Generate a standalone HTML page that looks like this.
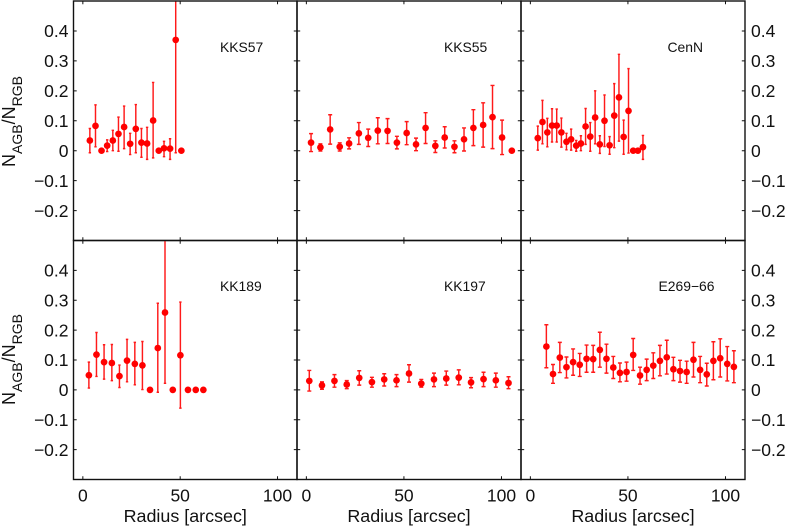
<!DOCTYPE html>
<html>
<head>
<meta charset="utf-8">
<title>AGB to RGB ratio by radius</title>
<style>
html,body{margin:0;padding:0;background:#fff;}
svg{display:block;font-family:"Liberation Sans",Arial,sans-serif;}
</style>
</head>
<body>
<svg id="figure" xmlns="http://www.w3.org/2000/svg" width="785" height="527" viewBox="0 0 785 527"></svg>
<script>
const xTickValues = [0, 50, 100];
const yTickValues = [0.4, 0.3, 0.2, 0.1, 0, -0.1, -0.2];
const yTickLabels = ["0.4", "0.3", "0.2", "0.1", "0", "\u22120.1", "\u22120.2"];
const xAxisTitle = "Radius [arcsec]";
const galaxyNames = ["KKS57", "KKS55", "CenN", "KK189", "KK197", "E269\u221266"];

const kks57Radius = [3.6,6.5,9.6,12.5,15.4,18.3,21.2,24.3,27.2,30.1,33,36.1,39,41.7,44.8,47.7,50.6];
const kks57Ratio = [.034,.083,0,.017,.034,.056,.079,.023,.073,.027,.024,.101,0,.008,.007,.37,0];
const kks57Upper = [.074,.153,null,.036,.068,.112,.149,.058,.154,.074,.078,.228,null,.031,.04,.74,null];
const kks57Lower = [-.007,.013,null,-.003,0,-.002,.007,-.013,-.007,-.022,-.029,-.024,null,-.02,-.029,-.007,null];

const kks55Radius = [2.4,7.2,12.2,17.1,21.9,26.9,31.7,36.6,41.6,46.4,51.4,56.2,61.1,66.1,70.9,75.9,80.8,85.6,90.6,95.4,100.3,105.3];
const kks55Ratio = [.027,.011,.071,.013,.024,.058,.043,.067,.066,.027,.059,.021,.076,.016,.044,.013,.038,.076,.086,.112,.044,0];
const kks55Upper = [.057,.023,.12,.026,.043,.094,.072,.11,.107,.048,.097,.042,.127,.033,.08,.033,.076,.137,.16,.218,.102,null];
const kks55Lower = [-.003,-.001,.022,-.001,.006,.021,.014,.023,.024,.006,.02,0,.024,-.006,.009,-.007,-.001,.017,.012,.007,-.013,null];

const cenNRadius = [3.8,6.2,8.7,11.1,13.5,15.9,18.5,20.9,23.5,25.9,28.3,30.7,33.2,35.6,38,40.6,43,45.4,47.8,50.3,52.7,55.1,57.7];
const cenNRatio = [.042,.096,.061,.084,.084,.061,.03,.038,.017,.024,.081,.047,.111,.021,.1,.018,.117,.178,.046,.133,0,0,.012];
const cenNUpper = [.082,.168,.108,.14,.139,.109,.058,.072,.034,.05,.141,.094,.2,.05,.186,.047,.224,.322,.102,.274,null,null,.051];
const cenNLower = [.002,.023,.013,.029,.029,.012,.003,.002,-.002,0,.021,-.002,.023,-.009,.014,-.012,.01,.032,-.012,-.008,null,null,-.029];

const kk189Radius = [3.1,7,10.9,14.9,18.8,22.7,26.7,30.6,34.5,38.5,42.2,46.2,50.1,54,58,61.9];
const kk189Ratio = [.049,.118,.093,.09,.046,.098,.087,.082,0,.14,.259,0,.116,0,0,0];
const kk189Upper = [.093,.192,.151,.152,.083,.169,.159,.162,null,.29,.56,null,.294,null,null,null];
const kk189Lower = [.006,.045,.036,.031,.008,.027,.017,.001,null,-.008,.022,null,-.061,null,null,null];

const kk197Radius = [1.5,8,14.4,20.7,27.1,33.6,39.9,46.2,52.6,58.9,65.4,71.7,78.1,84.4,90.8,97.1,103.6];
const kk197Ratio = [.03,.015,.03,.018,.04,.026,.035,.032,.055,.021,.035,.038,.041,.025,.036,.032,.023];
const kk197Upper = [.065,.027,.051,.031,.064,.042,.054,.051,.084,.035,.056,.063,.067,.041,.059,.056,.044];
const kk197Lower = [-.004,.002,.009,.004,.016,.009,.013,.011,.026,.009,.011,.016,.017,.007,.011,.009,.004];

const e269Radius = [8.2,11.6,15.1,18.5,21.9,25.3,28.8,32.2,35.6,39,42.5,45.9,49.3,52.7,56.2,59.6,63,66.4,69.9,73.3,76.7,80.1,83.6,87,90.4,93.8,97.3,100.9,104.3];
const e269Ratio = [.145,.053,.108,.076,.093,.084,.104,.103,.134,.104,.075,.057,.06,.117,.048,.067,.081,.097,.109,.069,.063,.06,.101,.067,.052,.097,.106,.087,.077];
const e269Upper = [.218,.085,.159,.11,.137,.122,.15,.149,.193,.153,.112,.09,.093,.172,.076,.103,.124,.149,.166,.109,.099,.096,.159,.112,.089,.161,.171,.145,.131];
const e269Lower = [.074,.022,.058,.04,.049,.045,.059,.059,.076,.056,.038,.027,.029,.065,.019,.031,.038,.047,.053,.031,.026,.022,.043,.024,.013,.034,.043,.03,.024];

const radiusSeries = [kks57Radius, kks55Radius, cenNRadius, kk189Radius, kk197Radius, e269Radius];
const ratioSeries = [kks57Ratio, kks55Ratio, cenNRatio, kk189Ratio, kk197Ratio, e269Ratio];
const upperSeries = [kks57Upper, kks55Upper, cenNUpper, kk189Upper, kk197Upper, e269Upper];
const lowerSeries = [kks57Lower, kks55Lower, cenNLower, kk189Lower, kk197Lower, e269Lower];

const NS = "http://www.w3.org/2000/svg";
const svg = document.getElementById("figure");
const colEdges = [73.5, 297, 521, 745];
const rowEdges = [1, 240.5, 479.5];
const xDomain = [-4.8, 110];
const yDomain = [-0.3, 0.5];

function make(tag, attrs, parent, text) {
  const el = document.createElementNS(NS, tag);
  for (const k in attrs) el.setAttribute(k, attrs[k]);
  if (text !== undefined) el.textContent = text;
  parent.appendChild(el);
  return el;
}
function xScale(col, v) {
  const l = colEdges[col], r = colEdges[col + 1];
  return l + (v - xDomain[0]) / (xDomain[1] - xDomain[0]) * (r - l);
}
function yScale(row, v) {
  const t = rowEdges[row], b = rowEdges[row + 1];
  return b - (v - yDomain[0]) / (yDomain[1] - yDomain[0]) * (b - t);
}
function slug(s) {
  return s.toLowerCase().replace(/[^a-z0-9]+/g, "-");
}

galaxyNames.forEach(function (name, i) {
  const col = i % 3, row = Math.floor(i / 3);
  const l = colEdges[col], r = colEdges[col + 1], t = rowEdges[row], b = rowEdges[row + 1];
  const key = slug(name);

  const panel = make("g", {}, svg);
  
  

  const clip = make("clipPath", { id: "clip-" + i }, panel);
  make("rect", { x: l, y: t, width: r - l, height: b - t }, clip);

  const marks = make("g", { "clip-path": "url(#clip-" + i + ")" }, panel);
  
  

  const xs = radiusSeries[i], ys = ratioSeries[i], hi = upperSeries[i], lo = lowerSeries[i];
  xs.forEach(function (xv, j) {
    const cx = xScale(col, xv);
    if (hi[j] !== null) {
      const yh = yScale(row, hi[j]), yl = yScale(row, lo[j]);
      const capW = col === 0 && row === 0 || col === 2 && row === 0 || i === 3 ? 1.2 : 2;
      const bar = make("path", {
        d: "M" + cx + " " + yh + "V" + yl +
           "M" + (cx - capW) + " " + yh + "H" + (cx + capW) +
           "M" + (cx - capW) + " " + yl + "H" + (cx + capW),
        fill: "none", stroke: "#ff1a1a", "stroke-width": 1.45
      }, marks);
      
      
    }
    const dot = make("circle", { cx: cx, cy: yScale(row, ys[j]), r: 3.35, fill: "#ff0000" }, marks);
    
    
  });

  const ticks = make("g", { stroke: "#111", "stroke-width": 1, fill: "none" }, panel);
  
  
  let tickPath = "";
  xTickValues.forEach(function (v) {
    const x = xScale(col, v);
    tickPath += "M" + x + " " + t + "v3.2M" + x + " " + b + "v-3.2";
  });
  yTickValues.forEach(function (v) {
    const y = yScale(row, v);
    tickPath += "M" + l + " " + y + "h3.2M" + r + " " + y + "h-3.2";
  });
  make("path", { d: tickPath }, ticks);

  const frame = make("rect", { x: l, y: t, width: r - l, height: b - t, fill: "none", stroke: "#111", "stroke-width": 1.4 }, panel);
  
  

  const labelBaseline = row === 0 ? 52 : 291;
  const labelX = [220, 444, 0][col] || (i === 2 ? 667.5 : 658.5);
  const label = make("text", { x: labelX, y: labelBaseline, "font-size": 13.9, fill: "#111" }, panel, name);
  
  

  if (row === 1) {
    xTickValues.forEach(function (v) {
      const tl = make("text", { x: xScale(col, v), y: 501.5, "font-size": 17.5, "text-anchor": "middle", fill: "#111" }, panel, String(v));
      
      
    });
    const xt = make("text", { x: (l + r) / 2, y: 522, "font-size": 17.9, "text-anchor": "middle", fill: "#111" }, panel, xAxisTitle);
    
    
  }
  if (col === 0 || col === 2) {
    yTickValues.forEach(function (v, k) {
      const y = yScale(row, v) + 6.2;
      const attrs = col === 0
        ? { x: 68.5, y: y, "font-size": 17.5, "text-anchor": "end", fill: "#111" }
        : { x: 751, y: y, "font-size": 17.5, "text-anchor": "start", fill: "#111" };
      const tl = make("text", attrs, panel, yTickLabels[k]);
      
      
    });
  }
  if (col === 0) {
    const anchorY = row === 0 ? 167 : 405;
    const yt = make("text", { transform: "translate(15 " + anchorY + ") rotate(-90)", "font-size": 18, fill: "#111" }, panel);
    
    
    make("tspan", {}, yt, "N");
    make("tspan", { "font-size": 14, dy: 7 }, yt, "AGB");
    make("tspan", { dy: -7 }, yt, "/N");
    make("tspan", { "font-size": 14, dy: 7 }, yt, "RGB");
  }
});
</script>
</body>
</html>
